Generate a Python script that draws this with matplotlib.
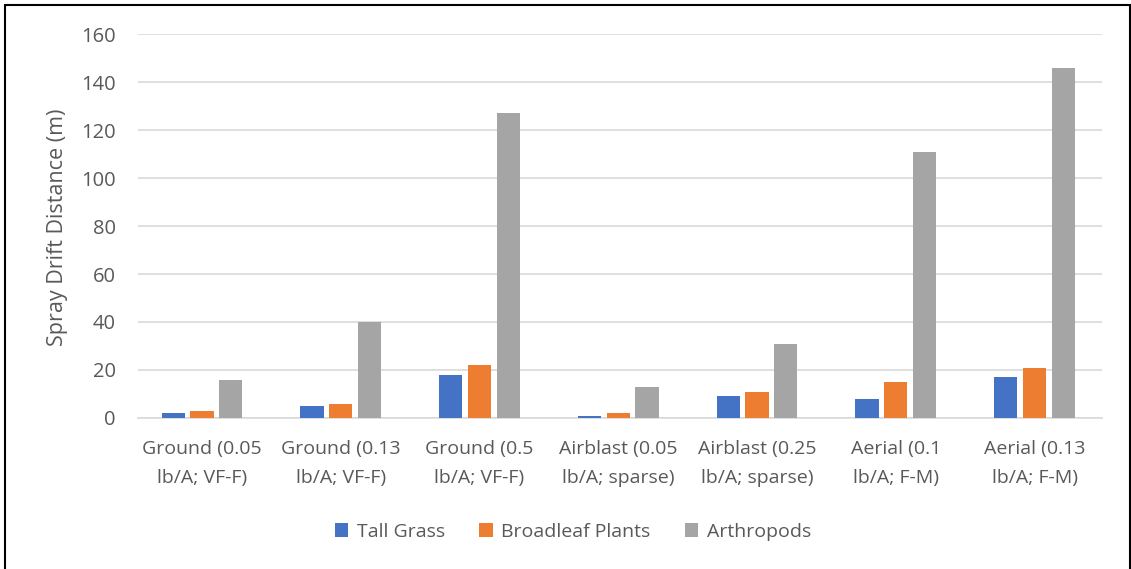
import matplotlib.pyplot as plt
import matplotlib.patches as mpatches
import numpy as np

categories = [
    "Ground (0.05\nlb/A; VF-F)",
    "Ground (0.13\nlb/A; VF-F)",
    "Ground (0.5\nlb/A; VF-F)",
    "Airblast (0.05\nlb/A; sparse)",
    "Airblast (0.25\nlb/A; sparse)",
    "Aerial (0.1\nlb/A; F-M)",
    "Aerial (0.13\nlb/A; F-M)",
]
tall_grass = [2, 5, 18, 1, 9, 8, 17]
broadleaf = [3, 6, 22, 2, 11, 15, 21]
arthropods = [16, 40, 127, 13, 31, 111, 146]

series = [
    ("Tall Grass", tall_grass, "#4472C4"),
    ("Broadleaf Plants", broadleaf, "#ED7D31"),
    ("Arthropods", arthropods, "#A5A5A5"),
]

plt.rcParams['font.family'] = ['Open Sans', 'DejaVu Sans']
text_col = "#595959"

fig = plt.figure(figsize=(11.31, 5.69), dpi=100)
ax = fig.add_axes([0.122, 0.2654, 0.852, 0.6748])

x = np.arange(len(categories))
w = 0.168
step = 0.207
for i, (name, vals, col) in enumerate(series):
    ax.bar(x + (i - 1) * step, vals, width=w, color=col, label=name, zorder=3)

ax.set_xlim(-0.461, 6.483)
ax.set_ylim(0, 160)
ax.set_yticks(range(0, 161, 20))
ax.yaxis.grid(True, color="#d9d9d9", linewidth=1.2, zorder=0)
for s in ["top", "right", "left"]:
    ax.spines[s].set_visible(False)
ax.spines["bottom"].set_color("#d9d9d9")
ax.spines["bottom"].set_linewidth(1.2)
ax.tick_params(axis="both", length=0, colors=text_col)
ax.tick_params(axis="y", pad=16, labelsize=14.5)
ax.tick_params(axis="x", pad=16, labelsize=14)
ax.set_xticks(x)
ax.set_xticklabels(categories, linespacing=1.75)

fig.text(57 / 1131, 0.600, "Spray Drift Distance (m)", rotation=90, ha="center",
         va="center", fontsize=15.5, color=text_col)

fig.legend(loc="center", bbox_to_anchor=(0.5066, 0.065), ncol=3, frameon=False,
           fontsize=14, labelcolor=text_col, handlelength=0.7, handleheight=0.7,
           columnspacing=1.75, handletextpad=0.45)

border = mpatches.Rectangle((4.5 / 1131, -0.02), 1125.5 / 1131, (569 - 4.5) / 569 + 0.02,
                            transform=fig.transFigure, fill=False, edgecolor="black",
                            linewidth=1.5)
fig.patches.append(border)

fig.savefig("out.png", dpi=100)
